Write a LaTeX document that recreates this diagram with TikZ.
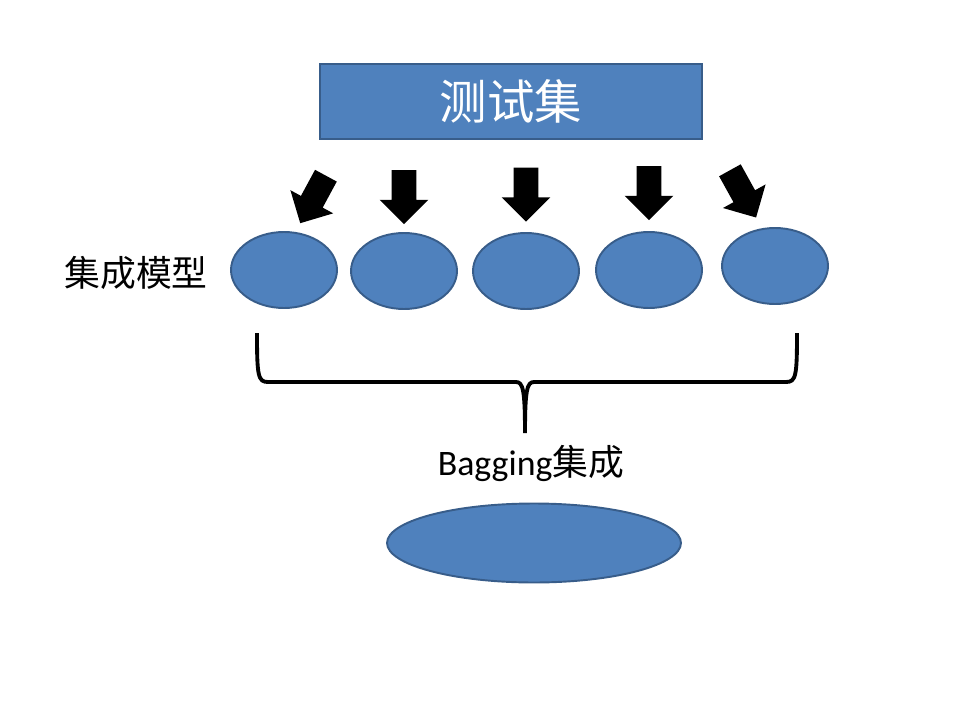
\documentclass[tikz,border=0pt]{standalone}
\usepackage{fontspec}
\setmainfont{Carlito}
\newfontfamily\cjk{Noto Sans CJK SC}
\usetikzlibrary{shapes.geometric,shapes.arrows}
\definecolor{boxblue}{HTML}{4F81BD}
\definecolor{boxline}{HTML}{385D8A}

\begin{document}
\begin{tikzpicture}[x=0.02cm,y=-0.02cm,
	model/.style={ellipse,fill=boxblue,draw=boxline,line width=1.1pt,minimum width=2.12cm,minimum height=1.52cm,inner sep=0pt},
	blockarr/.style={single arrow,fill=black,inner xsep=0pt,inner ysep=0.24cm,minimum height=1.08cm,single arrow head extend=0.24cm,single arrow tip angle=90},
	brace/.style={line width=2.2pt}]
	%\draw[help lines] (0,0) grid[step=50] (960,720);
	\useasboundingbox (0,0) rectangle (960,720);
	\node[rectangle,fill=boxblue,draw=boxline,line width=1.3pt,minimum width=7.64cm,minimum height=1.5cm,text=white,font=\cjk\fontsize{27}{30}\selectfont] (test) at (511,101.5) {测试集};
	\node[blockarr,rotate=-118.4] (a1) at (316,194) {};
	\node[blockarr,rotate=-90] (a2) at (404,191) {};
	\node[blockarr,rotate=-90] (a3) at (526,188.5) {};
	\node[blockarr,rotate=-90] (a4) at (649,187) {};
	\node[blockarr,rotate=-61] (a5) at (740,188.5) {};
	\node[font=\cjk\fontsize{20.4}{24}\selectfont] (lbl) at (136,273) {集成模型};
	\node[model] (m1) at (284,270) {};
	\node[model] (m2) at (404,271) {};
	\node[model] (m3) at (526,271) {};
	\node[model] (m4) at (649,270) {};
	\node[model] (m5) at (775,266) {};
	\draw[brace] (257,333) .. controls (257,376) and (258,382) .. (268,382) -- (516,382)
		.. controls (523,382) and (525,390) .. (525,433)
		.. controls (525,390) and (527,382) .. (534,382) -- (786,382)
		.. controls (796,382) and (797,376) .. (797,333);
	\node[font=\fontsize{20.4}{24}\selectfont] (bag) at (531,463) {Bagging{\cjk 集成}};
	\node[model,minimum width=5.88cm,minimum height=1.58cm] (vote) at (534,543) {};
\end{tikzpicture}
\end{document}
